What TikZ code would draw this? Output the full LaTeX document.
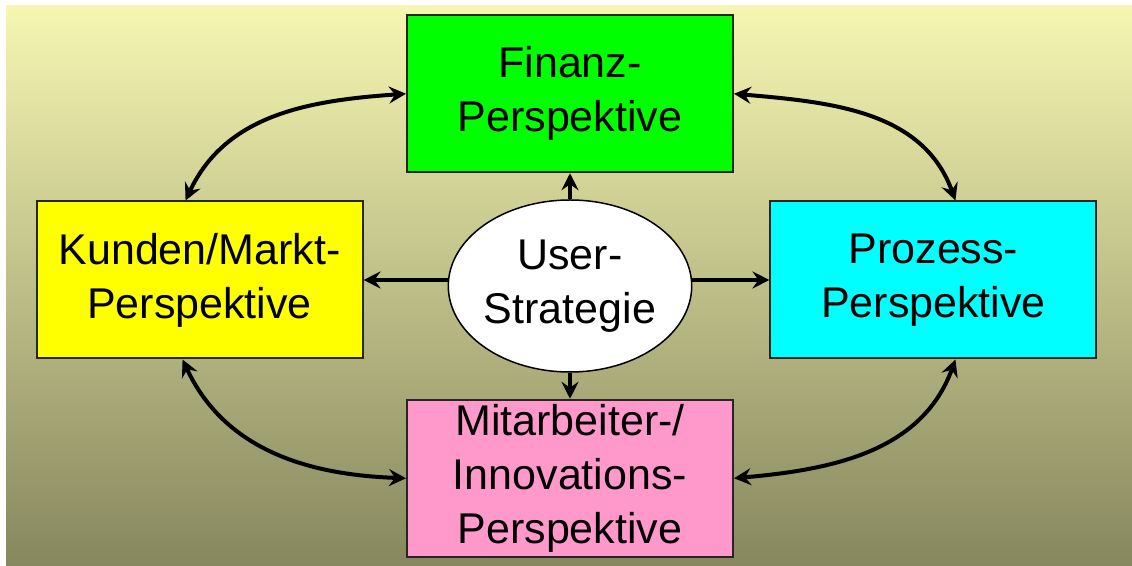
\documentclass[tikz,border=0pt]{standalone}
\usepackage{fontspec}
\setmainfont{Liberation Sans}
\usetikzlibrary{positioning,shapes.geometric,arrows.meta}
\definecolor{bgtop}{HTML}{F6F6B2}
\definecolor{bgbottom}{HTML}{86875E}
\definecolor{greenbox}{HTML}{00FF00}
\definecolor{yellowbox}{HTML}{FFFF00}
\definecolor{cyanbox}{HTML}{00FFFF}
\definecolor{pinkbox}{HTML}{FF99CC}
\begin{document}
\begin{tikzpicture}[
	> = {Stealth[length=8.5pt,width=8.5pt,inset=3pt]}, % arrow head style
	line width=2pt, % line style
	font=\fontsize{21.5}{27}\selectfont,
	box/.style={rectangle,draw=black!85,line width=1pt,minimum width=163pt,minimum height=78.5pt,align=center,inner sep=0pt}
	]
	
	% background
	\useasboundingbox (0,0) rectangle (566pt,-283pt);
	\shade[top color=bgtop,bottom color=bgbottom] (3pt,-3pt) rectangle (566pt,-283pt);
	
	\node[ellipse,draw,fill=white,line width=0.75pt,minimum width=119pt,minimum height=86pt,align=center,inner sep=0pt] (strat) at (285pt,-143pt) {User-\\Strategie};
	\node[box,fill=greenbox] (finanz) [above=13pt of strat] {Finanz-\\Perspektive};
	\node[box,fill=pinkbox] (mitarb) [below=13pt of strat] {Mitarbeiter-/\\Innovations-\\Perspektive};
	\node[box,fill=yellowbox] (kunden) [left=42pt of strat, yshift=3pt] {Kunden/Markt-\\Perspektive};
	\node[box,fill=cyanbox] (prozess) [right=38.5pt of strat, yshift=3pt] {Prozess-\\Perspektive};
	
	\path[->]
	(strat) edge (finanz)
	edge (mitarb)
	(strat.west |- kunden) edge (kunden)
	(strat.east |- prozess) edge (prozess);
	
	\path[<->]
	(finanz.west) edge [out=184, in=65] ([xshift=-7pt]kunden.north)
	(finanz.east) edge [out=-5, in=110] ([xshift=11pt]prozess.north)
	([xshift=-8.5pt]kunden.south) edge [out=-65, in=178] (mitarb.west)
	([xshift=11pt]prozess.south) edge [out=250, in=5] (mitarb.east);
\end{tikzpicture}
\end{document}
